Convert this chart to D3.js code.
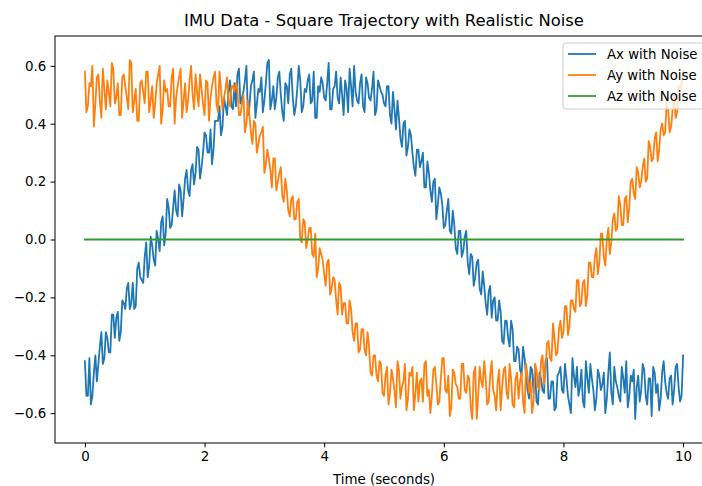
<!DOCTYPE html>
<html><head><meta charset="utf-8">
<script src="https://cdn.jsdelivr.net/npm/d3@7"></script>
<style>
html,body{margin:0;padding:0;background:#fff;}
svg{display:block;overflow:hidden;font-family:"DejaVu Sans",sans-serif;}
</style></head>
<body><svg id="chart" width="702" height="486"></svg>
<script>
// Sampling times (s): main samples every 0.05 s, in-between samples offset by 0.025 s
const time = d3.range(201).map(i => +(i * 0.05).toFixed(3));
const timeMid = d3.range(200).map(k => +(0.025 + k * 0.05).toFixed(3));

const axValues = [
-0.42,-0.54,-0.57,-0.46,-0.49,-0.37,-0.43,-0.32,-0.39,-0.26,
-0.34,-0.25,-0.32,-0.22,-0.17,-0.24,-0.15,-0.23,-0.08,-0.14,
-0.06,-0.13,0.01,-0.07,0.03,-0.04,0.08,0.02,0.11,0.05,
0.17,0.08,0.17,0.14,0.24,0.15,0.26,0.23,0.31,0.25,
0.37,0.30,0.38,0.31,0.41,0.46,0.39,0.46,0.51,0.46,
0.54,
0.57,0.47,0.51,0.60,0.46,0.55,0.42,0.52,0.56,0.48,
0.61,0.45,0.53,0.49,0.58,0.44,0.54,0.47,0.59,0.43,
0.52,0.55,0.46,0.51,0.57,0.48,0.42,0.53,0.56,0.49,
0.54,0.45,0.52,0.58,0.47,0.50,0.55,0.44,0.53,0.60,
0.48,0.54,0.46,0.56,0.49,0.52,0.43,0.55,0.51,0.47,
0.53,0.43,0.51,0.38,0.42,0.32,0.41,0.32,0.36,0.25,
0.31,0.25,0.30,0.18,0.23,0.13,0.21,0.12,0.16,0.04,
0.10,0.03,0.10,-0.03,0.03,-0.06,0.01,-0.08,-0.05,-0.16,
-0.08,-0.17,-0.11,-0.22,-0.18,-0.27,-0.20,-0.28,-0.25,-0.36,
-0.28,-0.37,-0.31,-0.42,-0.38,-0.47,-0.41,-0.52,-0.44,-0.53,
-0.56,-0.46,-0.52,-0.42,-0.55,-0.49,-0.59,-0.47,-0.44,-0.53,
-0.48,-0.57,-0.41,-0.51,-0.54,-0.45,-0.58,-0.48,-0.43,-0.52,
-0.55,-0.47,-0.50,-0.60,-0.46,-0.53,-0.44,-0.51,-0.56,-0.48,
-0.42,-0.54,-0.49,-0.62,-0.47,-0.52,-0.45,-0.57,-0.48,-0.44,
-0.53,-0.59,-0.46,-0.49,-0.55,-0.47,-0.52,-0.43,-0.56,-0.40
];

const axValuesMid = [
-0.54,-0.41,-0.54,-0.40,-0.43,-0.32,-0.41,-0.34,-0.39,-0.26,
-0.27,-0.35,-0.21,-0.24,-0.15,-0.22,-0.24,-0.10,-0.13,-0.15,
-0.01,-0.09,-0.02,-0.09,0.00,0.06,-0.02,0.14,0.04,0.11,
0.10,0.19,0.08,0.21,0.17,0.24,0.19,0.32,0.21,0.30,
0.36,0.30,0.26,0.41,0.41,0.36,0.49,0.43,0.55,0.45,
0.46,0.59,0.49,0.55,0.43,0.53,0.58,0.47,0.51,0.44,
0.54,0.62,0.48,0.45,0.56,0.50,0.41,0.53,0.57,0.49,
0.46,0.60,0.44,0.52,0.55,0.47,0.58,0.42,0.51,0.54,
0.48,0.61,0.45,0.53,0.49,0.56,0.43,0.52,0.59,0.46,
0.51,0.47,0.57,0.44,0.54,0.48,0.58,0.45,0.53,0.50,
0.46,0.53,0.40,0.45,0.48,0.35,0.40,0.29,0.38,0.30,
0.22,0.31,0.27,0.18,0.27,0.17,0.20,0.07,0.18,0.12,
0.05,0.14,0.02,0.05,-0.05,0.03,-0.04,0.03,-0.12,-0.06,
-0.13,-0.07,-0.19,-0.16,-0.26,-0.16,-0.21,-0.28,-0.21,-0.35,
-0.28,-0.34,-0.28,-0.42,-0.37,-0.45,-0.37,-0.47,-0.55,-0.45,
-0.45,-0.57,-0.48,-0.53,-0.41,-0.55,-0.49,-0.58,-0.46,-0.52,
-0.43,-0.54,-0.60,-0.47,-0.44,-0.51,-0.56,-0.42,-0.53,-0.48,
-0.59,-0.45,-0.52,-0.46,-0.55,-0.39,-0.57,-0.49,-0.54,-0.44,
-0.53,-0.58,-0.47,-0.45,-0.51,-0.56,-0.43,-0.54,-0.48,-0.61,
-0.46,-0.50,-0.55,-0.42,-0.53,-0.48,-0.57,-0.44,-0.51,-0.54
];

const ayValues = [
0.58,0.46,0.53,0.39,0.56,0.48,0.59,0.45,0.51,0.61,
0.47,0.54,0.43,0.57,0.49,0.62,0.44,0.52,0.41,0.55,
0.47,0.58,0.48,0.42,0.54,0.60,0.45,0.51,0.46,0.56,
0.40,0.53,0.59,0.48,0.44,0.55,0.50,0.57,0.46,0.52,
0.43,0.54,0.49,0.56,0.47,0.58,0.45,0.52,0.48,0.53,
0.51,
0.52,0.43,0.50,0.40,0.43,0.33,0.40,0.33,0.37,0.23,
0.31,0.24,0.28,0.17,0.23,0.15,0.21,0.10,0.14,0.07,
0.13,0.00,0.07,-0.03,0.04,-0.05,0.02,-0.10,-0.05,-0.12,
-0.08,-0.19,-0.13,-0.21,-0.15,-0.26,-0.22,-0.29,-0.24,-0.35,
-0.29,-0.38,-0.31,-0.40,-0.37,-0.47,-0.40,-0.49,-0.43,-0.54,
-0.44,-0.53,-0.48,-0.58,-0.45,-0.51,-0.43,-0.55,-0.47,-0.59,
-0.46,-0.49,-0.56,-0.42,-0.52,-0.54,-0.44,-0.57,-0.48,-0.41,
-0.53,-0.61,-0.45,-0.50,-0.55,-0.43,-0.52,-0.47,-0.58,-0.46,
-0.62,-0.44,-0.51,-0.48,-0.56,-0.42,-0.54,-0.49,-0.59,-0.45,
-0.53,-0.43,-0.57,-0.48,-0.55,-0.46,-0.60,-0.47,-0.49,-0.56,
-0.45,-0.52,-0.40,-0.45,-0.35,-0.42,-0.34,-0.39,-0.28,-0.32,
-0.23,-0.30,-0.21,-0.25,-0.14,-0.22,-0.14,-0.19,-0.08,-0.13,
-0.03,-0.08,0.02,-0.09,0.04,-0.01,0.09,0.04,0.12,0.05,
0.15,0.11,0.21,0.14,0.23,0.20,0.28,0.21,0.32,0.28,
0.37,0.31,0.40,0.37,0.45,0.39,0.50,0.44,0.51,0.58
];

const ayValuesMid = [
0.44,0.54,0.60,0.47,0.57,0.42,0.52,0.55,0.46,0.59,
0.49,0.43,0.56,0.53,0.45,0.61,0.48,0.41,0.54,0.51,
0.58,0.44,0.53,0.47,0.57,0.40,0.55,0.52,0.46,0.59,
0.49,0.56,0.42,0.54,0.48,0.60,0.45,0.51,0.57,0.47,
0.55,0.41,0.53,0.58,0.44,0.52,0.49,0.56,0.46,0.53,
0.54,0.43,0.47,0.37,0.48,0.37,0.41,0.30,0.36,0.39,
0.26,0.28,0.18,0.28,0.20,0.25,0.13,0.17,0.08,0.15,
0.07,0.14,-0.01,0.06,0.00,0.04,-0.06,-0.13,-0.03,-0.07,
-0.16,-0.07,-0.17,-0.14,-0.26,-0.16,-0.22,-0.29,-0.21,-0.32,
-0.29,-0.39,-0.31,-0.38,-0.32,-0.46,-0.40,-0.47,-0.42,-0.53,
-0.47,-0.57,-0.45,-0.52,-0.42,-0.55,-0.49,-0.59,-0.46,-0.44,
-0.53,-0.56,-0.48,-0.43,-0.54,-0.60,-0.45,-0.50,-0.56,-0.41,
-0.52,-0.47,-0.58,-0.46,-0.51,-0.55,-0.43,-0.53,-0.48,-0.62,
-0.44,-0.54,-0.49,-0.42,-0.57,-0.47,-0.52,-0.59,-0.45,-0.51,
-0.44,-0.55,-0.48,-0.58,-0.46,-0.49,-0.56,-0.43,-0.53,-0.60,
-0.43,-0.51,-0.42,-0.50,-0.36,-0.41,-0.29,-0.40,-0.31,-0.34,
-0.23,-0.33,-0.21,-0.24,-0.14,-0.23,-0.15,-0.23,-0.08,-0.13,
-0.06,-0.12,0.02,-0.06,0.00,-0.05,0.07,0.03,0.15,0.05,
0.14,0.06,0.20,0.16,0.25,0.18,0.25,0.20,0.34,0.27,
0.35,0.27,0.38,0.36,0.47,0.37,0.45,0.42,0.53,0.54
];

const azTime = [0, 10];
const azValues = [0.0, 0.0];

const seriesNames = ["Ax with Noise", "Ay with Noise", "Az with Noise"];
const seriesColors = ["#1f77b4", "#ff7f0e", "#2ca02c"];
const xTicks = [0, 2, 4, 6, 8, 10];
const yTicks = [-0.6, -0.4, -0.2, 0.0, 0.2, 0.4, 0.6];
const titleText = "IMU Data - Square Trajectory with Realistic Noise";
const xLabelText = "Time (seconds)";

(function draw() {
const svg = d3.select("#chart");
const L = 55, T = 36, R = 713, B = 443;

const x = d3.scaleLinear().domain([-0.5, 10.5]).range([L, R]);
const y = d3.scaleLinear().domain([-0.703, 0.703]).range([B, T]);
const fmt = d3.format(".1f");

svg.append("clipPath").attr("id", "clip")
  .append("rect").attr("x", L).attr("y", T).attr("width", R-L).attr("height", B-T);

const merge = (t1, v1, t2, v2) =>
  d3.zip(t1, v1).concat(d3.zip(t2, v2)).sort((a, b) => a[0] - b[0]);

const line = d3.line().x(d => x(d[0])).y(d => y(d[1]));
const g = svg.append("g").attr("clip-path", "url(#clip)");
const data = [
  merge(time, axValues, timeMid, axValuesMid),
  merge(time, ayValues, timeMid, ayValuesMid),
  d3.zip(azTime, azValues)
];
data.forEach((d, i) => {
  g.append("path").datum(d).attr("d", line)
    .attr("fill", "none").attr("stroke", seriesColors[i])
    .attr("stroke-width", 1.8).attr("stroke-linejoin", "round").attr("stroke-linecap", "square");
});

const xAxis = svg.append("g").attr("transform", `translate(0,${B})`)
  .call(d3.axisBottom(x).tickValues(xTicks).tickFormat(d3.format("d")).tickSize(4.4).tickPadding(4.4));
const yAxis = svg.append("g").attr("transform", `translate(${L},0)`)
  .call(d3.axisLeft(y).tickValues(yTicks).tickFormat(fmt).tickSize(4.4).tickPadding(4.4));
[xAxis, yAxis].forEach(a => {
  a.select(".domain").remove();
  a.selectAll("text").attr("font-family", "DejaVu Sans").attr("font-size", 13.4).attr("fill", "#000");
  a.selectAll("line").attr("stroke", "#000").attr("stroke-width", 1);
});

svg.append("rect").attr("x", L).attr("y", T).attr("width", R-L).attr("height", B-T)
  .attr("fill", "none").attr("stroke", "#000").attr("stroke-width", 1);

svg.append("text").attr("x", (L+R)/2).attr("y", 26)
  .attr("text-anchor", "middle").attr("font-size", 16.4).attr("fill", "#000").text(titleText);
svg.append("text").attr("x", (L+R)/2).attr("y", 484)
  .attr("text-anchor", "middle").attr("font-size", 13.4).attr("fill", "#000").text(xLabelText);

const lg = svg.append("g");
lg.append("rect").attr("x", 563).attr("y", 43).attr("width", 145).attr("height", 66).attr("rx", 3)
  .attr("fill", "#fff").attr("fill-opacity", 0.8).attr("stroke", "#ccc").attr("stroke-width", 1);
seriesNames.forEach((n, i) => {
  const cy = 54 + i * 21;
  lg.append("line").attr("x1", 568).attr("x2", 596).attr("y1", cy).attr("y2", cy)
    .attr("stroke", seriesColors[i]).attr("stroke-width", 1.8);
  lg.append("text").attr("x", 607).attr("y", cy).attr("dy", "0.36em")
    .attr("font-size", 13.3).attr("fill", "#000").text(n);
});
})();
</script></body></html>
